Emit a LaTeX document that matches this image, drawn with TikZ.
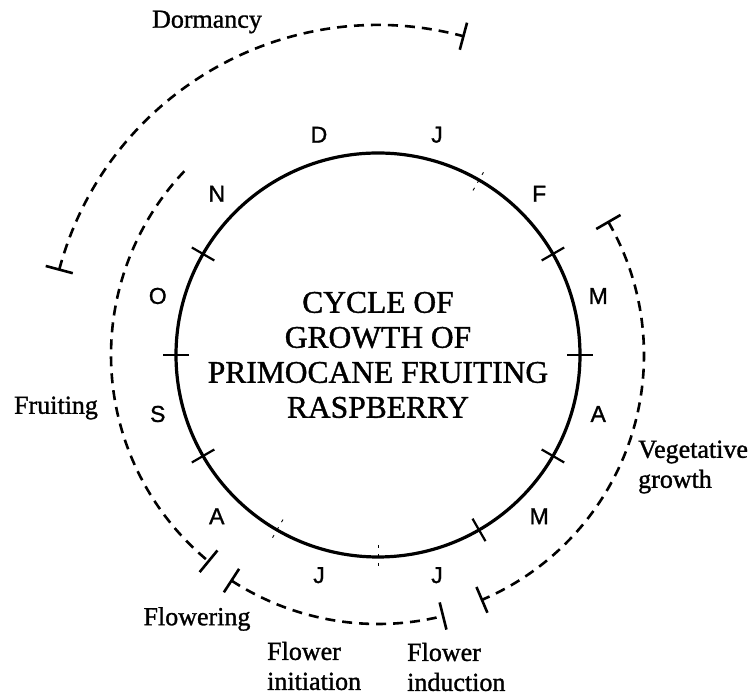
\documentclass[tikz,border=0pt]{standalone}
\usepackage{fontspec}
\setmainfont[FakeBold=1.2,AutoFakeBold=1.2]{Liberation Serif}
\newfontfamily\monthfont[FakeBold=1.2,AutoFakeBold=1.2]{Liberation Sans}
\begin{document}
\begin{tikzpicture}[x=1pt,y=1pt,
  phase/.style={line width=2.6pt, dash pattern=on 10pt off 7pt},
  endtick/.style={line width=2.6pt},
  rimtick/.style={line width=2.2pt},
  faint/.style={line width=0.9pt, dash pattern=on 3pt off 6pt},
  month/.style={font=\monthfont\fontsize{23}{23}\selectfont\bfseries, inner sep=0pt},
  lab/.style={font=\fontsize{26}{30}\selectfont\bfseries, align=left, inner sep=0pt}]
\useasboundingbox (0,0) rectangle (750,700);
\coordinate (C) at (378,345);
\node[circle, draw, line width=3.2pt, minimum size=404pt, inner sep=0pt] (ring) at (C) {};
\node[font=\fontsize{31.5}{35}\selectfont\bfseries, align=center, inner sep=0pt] (title) at (C)
  {CYCLE OF\\GROWTH OF\\PRIMOCANE FRUITING\\RASPBERRY};
\begin{scope}[shift={(C)}]
  % rim ticks
  \foreach \a in {0,30,150,180,210,300,330} \draw[rimtick] (\a:189) -- (\a:215);
  \foreach \a in {60,240,270} \draw[faint] (\a:190) -- (\a:214);
  % months
  \foreach \a/\m/\n in {75/J/jan,45/F/feb,15/M/mar,-15/A/apr,-45/M/may,-75/J/jun,
                        -105/J/jul,-135/A/aug,-165/S/sep,165/O/oct,135/N/nov,105/D/dec}
    \node[month] (\n) at (\a:228) {\m};
  % dormancy
  \draw[phase] (165:330) arc[start angle=165, end angle=75, radius=330];
  \draw[endtick] (165:316) -- (165:344);
  \draw[endtick] (75:316) -- (75:344);
  % fruiting
  \draw[phase] (136.5:267) arc[start angle=136.5, end angle=230.6, radius=267];
  \draw[endtick] (230.6:253) -- (230.6:281);
  % flowering / flower initiation
  \draw[phase] (237:269) arc[start angle=237, end angle=284, radius=269];
  \draw[endtick] (237:255) -- (237:283);
  \draw[endtick] (284:255) -- (284:283);
  % vegetative growth
  \draw[phase] (30:266) arc[start angle=30, end angle=-67, radius=266];
  \draw[endtick] (30:252) -- (30:280);
  \draw[endtick] (-67:252) -- (-67:280);
\end{scope}
\node[lab] (dormancy) at (207,678) {Dormancy};
\node[lab] (fruiting) at (56,292) {Fruiting};
\node[lab, anchor=west] (vegetative) at (638,233) {Vegetative\\growth};
\node[lab] (flowering) at (197,81) {Flowering};
\node[lab, anchor=west] (initiation) at (267,34) {Flower\\initiation};
\node[lab, anchor=west] (induction) at (407,33) {Flower\\induction};
\end{tikzpicture}
\end{document}
